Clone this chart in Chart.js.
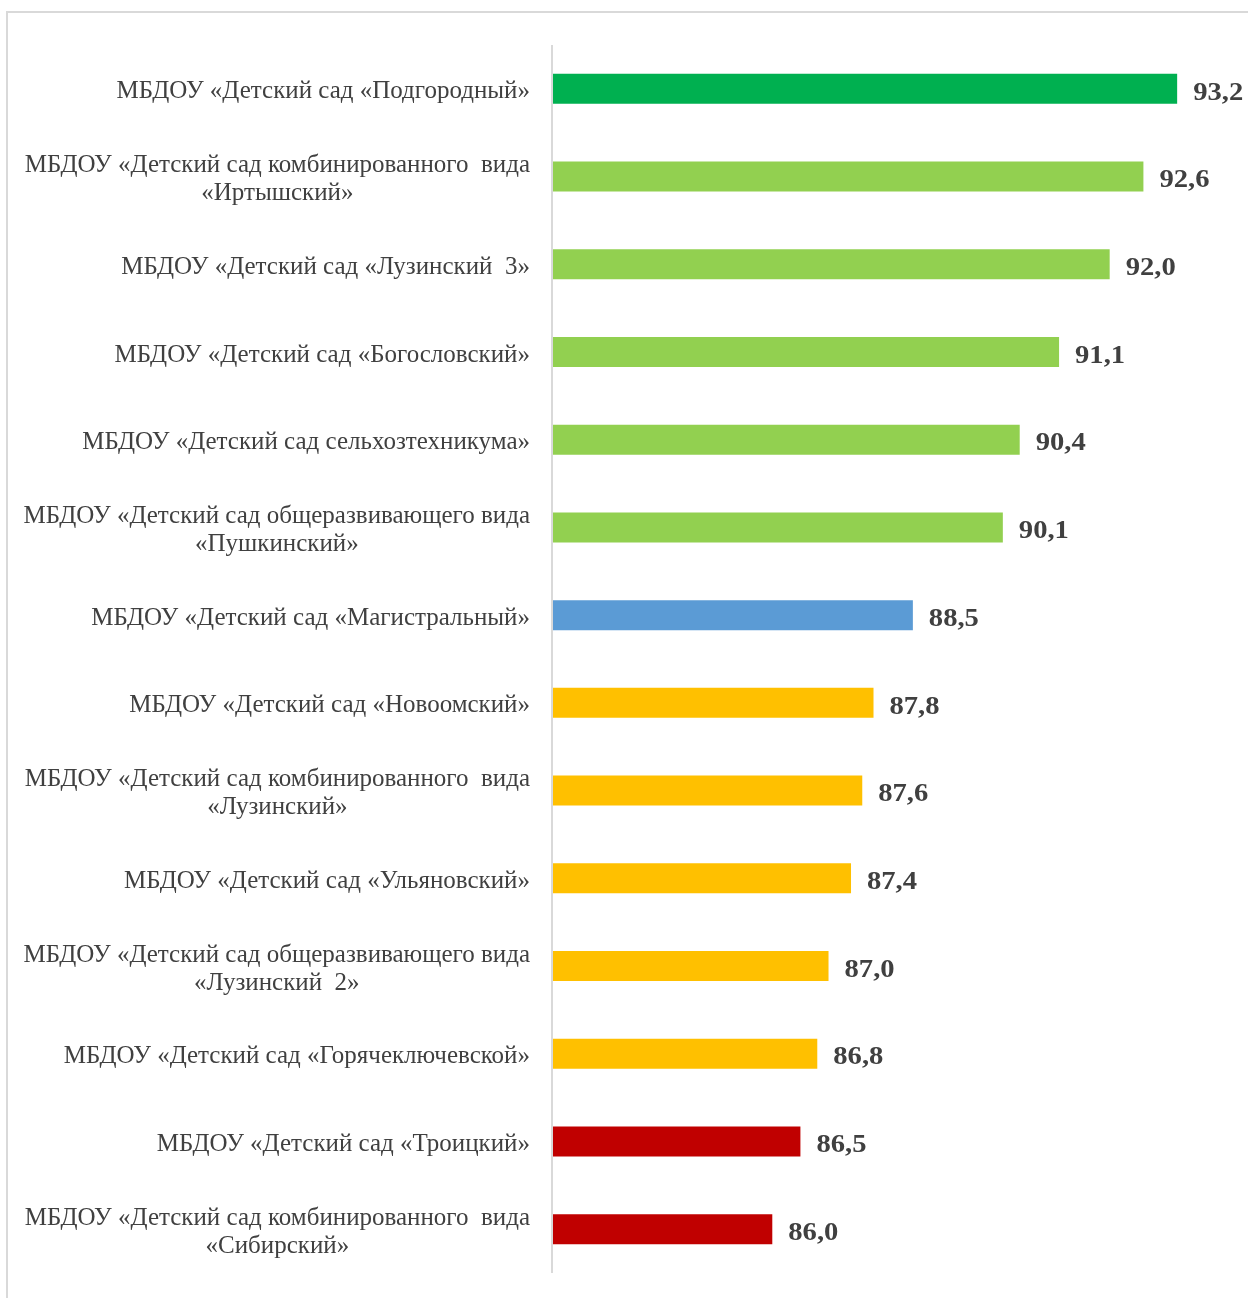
<!DOCTYPE html>
<html>
<head>
<meta charset="utf-8">
<script src="https://cdn.jsdelivr.net/npm/chart.js@4.4.1/dist/chart.umd.min.js"></script>
<style>
  html, body { margin: 0; padding: 0; background: #fff; overflow: hidden; }
  #frame {
    position: absolute; left: 6px; top: 11px;
    width: 1300px; height: 1340px;
    border: 2px solid #d9d9d9;
  }
  #chart { position: absolute; left: 0; top: 0; }
</style>
</head>
<body>
<div id="frame"></div>
<canvas id="chart" width="1248" height="1298"></canvas>
<script>
// kindergartens (label lines), top to bottom
const categories = [
  ["МБДОУ «Детский сад «Подгородный»"],
  ["МБДОУ «Детский сад комбинированного  вида", "«Иртышский»"],
  ["МБДОУ «Детский сад «Лузинский  3»"],
  ["МБДОУ «Детский сад «Богословский»"],
  ["МБДОУ «Детский сад сельхозтехникума»"],
  ["МБДОУ «Детский сад общеразвивающего вида", "«Пушкинский»"],
  ["МБДОУ «Детский сад «Магистральный»"],
  ["МБДОУ «Детский сад «Новоомский»"],
  ["МБДОУ «Детский сад комбинированного  вида", "«Лузинский»"],
  ["МБДОУ «Детский сад «Ульяновский»"],
  ["МБДОУ «Детский сад общеразвивающего вида", "«Лузинский  2»"],
  ["МБДОУ «Детский сад «Горячеключевской»"],
  ["МБДОУ «Детский сад «Троицкий»"],
  ["МБДОУ «Детский сад комбинированного  вида", "«Сибирский»"]
];
const scores = [93.2, 92.6, 92.0, 91.1, 90.4, 90.1, 88.5, 87.8, 87.6, 87.4, 87.0, 86.8, 86.5, 86.0];

const barColors = [
  "#00B050",
  "#92D050", "#92D050", "#92D050", "#92D050", "#92D050",
  "#5B9BD5",
  "#FFC000", "#FFC000", "#FFC000", "#FFC000", "#FFC000",
  "#C00000", "#C00000"
];

const textColor = "#404040";
const labelFont = '25px "Liberation Serif"';
const valueFont = 'bold 26px "Liberation Serif"';

// draws axis line, category labels (right aligned block, lines centred) and values
const labelsPlugin = {
  id: "labelsPlugin",
  afterDatasetsDraw(chart) {
    const ctx = chart.ctx;
    const y = chart.scales.y;
    const area = chart.chartArea;
    ctx.save();

    // vertical axis line
    ctx.strokeStyle = "#d9d9d9";
    ctx.lineWidth = 2;
    ctx.beginPath();
    ctx.moveTo(area.left - 1, area.top);
    ctx.lineTo(area.left - 1, area.bottom);
    ctx.stroke();

    // category labels
    ctx.fillStyle = textColor;
    ctx.font = labelFont;
    ctx.textAlign = "center";
    ctx.textBaseline = "middle";
    const rightEdge = area.left - 23;
    const lineH = 28;
    categories.forEach((lines, i) => {
      const cy = y.getPixelForTick(i) + 3;
      const w = Math.max(...lines.map(l => ctx.measureText(l).width));
      const cx = rightEdge - w / 2;
      const y0 = cy - (lines.length - 1) * lineH / 2;
      lines.forEach((l, j) => ctx.fillText(l, cx, y0 + j * lineH));
    });

    // value labels (slightly stretched like the original)
    ctx.font = valueFont;
    ctx.textAlign = "left";
    const meta = chart.getDatasetMeta(0);
    meta.data.forEach((bar, i) => {
      ctx.save();
      ctx.translate(bar.x + 16, bar.y + 4);
      ctx.scale(1.1, 1);
      ctx.fillText(scores[i].toFixed(1).replace(".", ","), 0, 0);
      ctx.restore();
    });
    ctx.restore();
  }
};

new Chart(document.getElementById("chart"), {
  type: "bar",
  data: {
    labels: categories,
    datasets: [{
      data: scores,
      backgroundColor: barColors,
      borderWidth: 0,
      barPercentage: 0.342,
      categoryPercentage: 1
    }]
  },
  options: {
    indexAxis: "y",
    responsive: false,
    animation: false,
    devicePixelRatio: 1,
    layout: { padding: { left: 553, right: 0, top: 45, bottom: 25 } },
    plugins: {
      legend: { display: false },
      tooltip: { enabled: false }
    },
    scales: {
      x: { display: false, min: 82.1, max: 94.46 },
      y: { display: false }
    }
  },
  plugins: [labelsPlugin]
});
</script>
</body>
</html>
